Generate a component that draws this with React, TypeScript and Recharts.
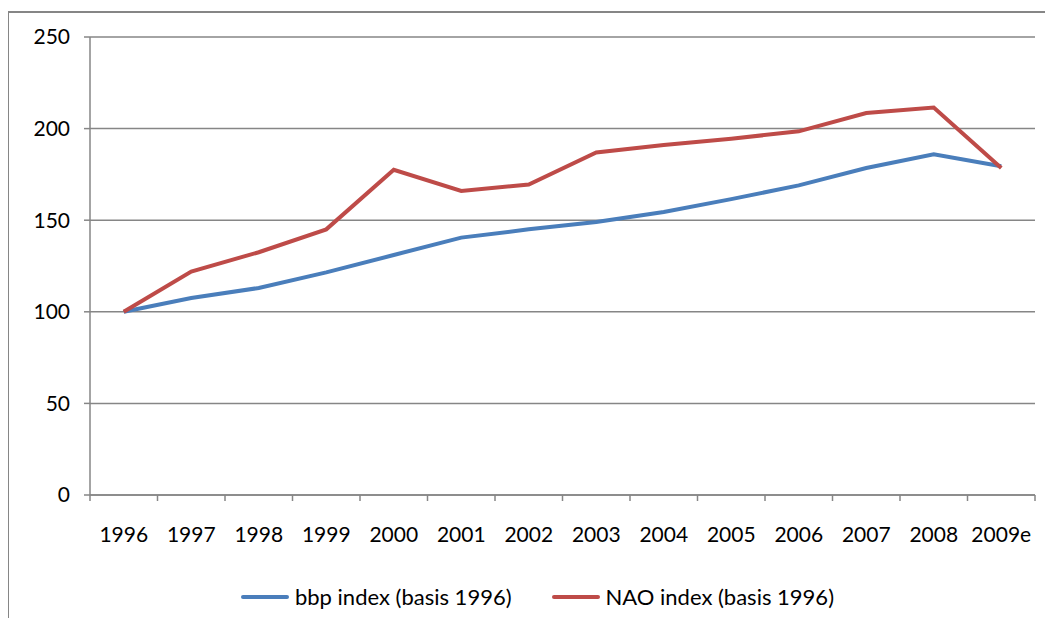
import React from 'react';
import { LineChart, Line, XAxis, YAxis, CartesianGrid, Legend } from 'recharts';

const years = ['1996', '1997', '1998', '1999', '2000', '2001', '2002', '2003', '2004', '2005', '2006', '2007', '2008', '2009e'];
const bbpIndex = [100, 107.5, 113, 121.5, 131, 140.5, 145, 149, 154.5, 161.5, 169, 178.5, 186, 179.5];
const naoIndex = [100, 122, 132.5, 145, 177.5, 166, 169.5, 187, 191, 194.5, 198.5, 208.5, 211.5, 178.5];
const yTicks = [0, 50, 100, 150, 200, 250];

const BLUE = '#4a7ebb';
const RED = '#be4b48';
const GRID = '#868686';
const FONT = 'Lato, "Open Sans", sans-serif';

const data = years.map((year, i) => ({ year, bbp: bbpIndex[i], nao: naoIndex[i] }));

// category label plus Excel-style tick marks on the band edges
const YearTick = (props: any) => {
  const { x, y, payload, index } = props;
  const half = payload.offset || 0;
  const isLast = index === years.length - 1;
  return (
    <g>
      <line x1={x - half} x2={x - half} y1={y} y2={y + 6} stroke={GRID} strokeWidth={1.5} />
      {isLast && <line x1={x + half} x2={x + half} y1={y} y2={y + 6} stroke={GRID} strokeWidth={1.5} />}
      <text x={x} y={y + 47} textAnchor="middle" fill="#000" fontSize={21} fontFamily={FONT}>
        {payload.value}
      </text>
    </g>
  );
};

const renderLegend = (props: any) => {
  const items = props.payload || [];
  return (
    <div style={{ display: 'flex', justifyContent: 'center', gap: 40, paddingLeft: 22, fontFamily: FONT, fontSize: 22, color: '#000' }}>
      {items.map((entry: any) => (
        <div key={entry.value} style={{ display: 'flex', alignItems: 'center' }}>
          <div style={{ width: 48, height: 4, borderRadius: 2, background: entry.color, marginRight: 6 }} />
          <span>{entry.value}</span>
        </div>
      ))}
    </div>
  );
};

export default function App() {
  return (
    <div style={{ position: 'relative', margin: -8, width: 1053, height: 626, background: '#fff', overflow: 'hidden' }}>
      <div style={{ position: 'absolute', left: 7, top: 11, right: -10, bottom: -10, borderLeft: `2px solid ${GRID}`, borderTop: `2px solid ${GRID}` }} />
      <LineChart
        width={1053}
        height={626}
        data={data}
        margin={{ top: 37, right: 18, bottom: 0, left: 0 }}
        style={{ position: 'absolute', left: 0, top: 0 }}
      >
        <CartesianGrid vertical={false} stroke={GRID} strokeWidth={1.5} />
        <XAxis
          dataKey="year"
          scale="band"
          height={131}
          axisLine={{ stroke: GRID, strokeWidth: 1.5 }}
          tickLine={false}
          tickSize={0}
          tickMargin={0}
          interval={0}
          tick={<YearTick />}
        />
        <YAxis
          domain={[0, 250]}
          ticks={yTicks}
          width={90}
          tickSize={6}
          tickMargin={14}
          axisLine={{ stroke: GRID, strokeWidth: 1.5 }}
          tickLine={{ stroke: GRID, strokeWidth: 1.5 }}
          tick={{ fill: '#000', fontSize: 21, fontFamily: FONT }}
        />
        <Legend verticalAlign="middle" itemSorter="dataKey" wrapperStyle={{ top: 583, left: 0, width: 1053 }} content={renderLegend} />
        <Line name="bbp index (basis 1996)" dataKey="bbp" stroke={BLUE} strokeWidth={4} dot={false} isAnimationActive={false} />
        <Line name="NAO index (basis 1996)" dataKey="nao" stroke={RED} strokeWidth={4} dot={false} isAnimationActive={false} />
      </LineChart>
    </div>
  );
}
